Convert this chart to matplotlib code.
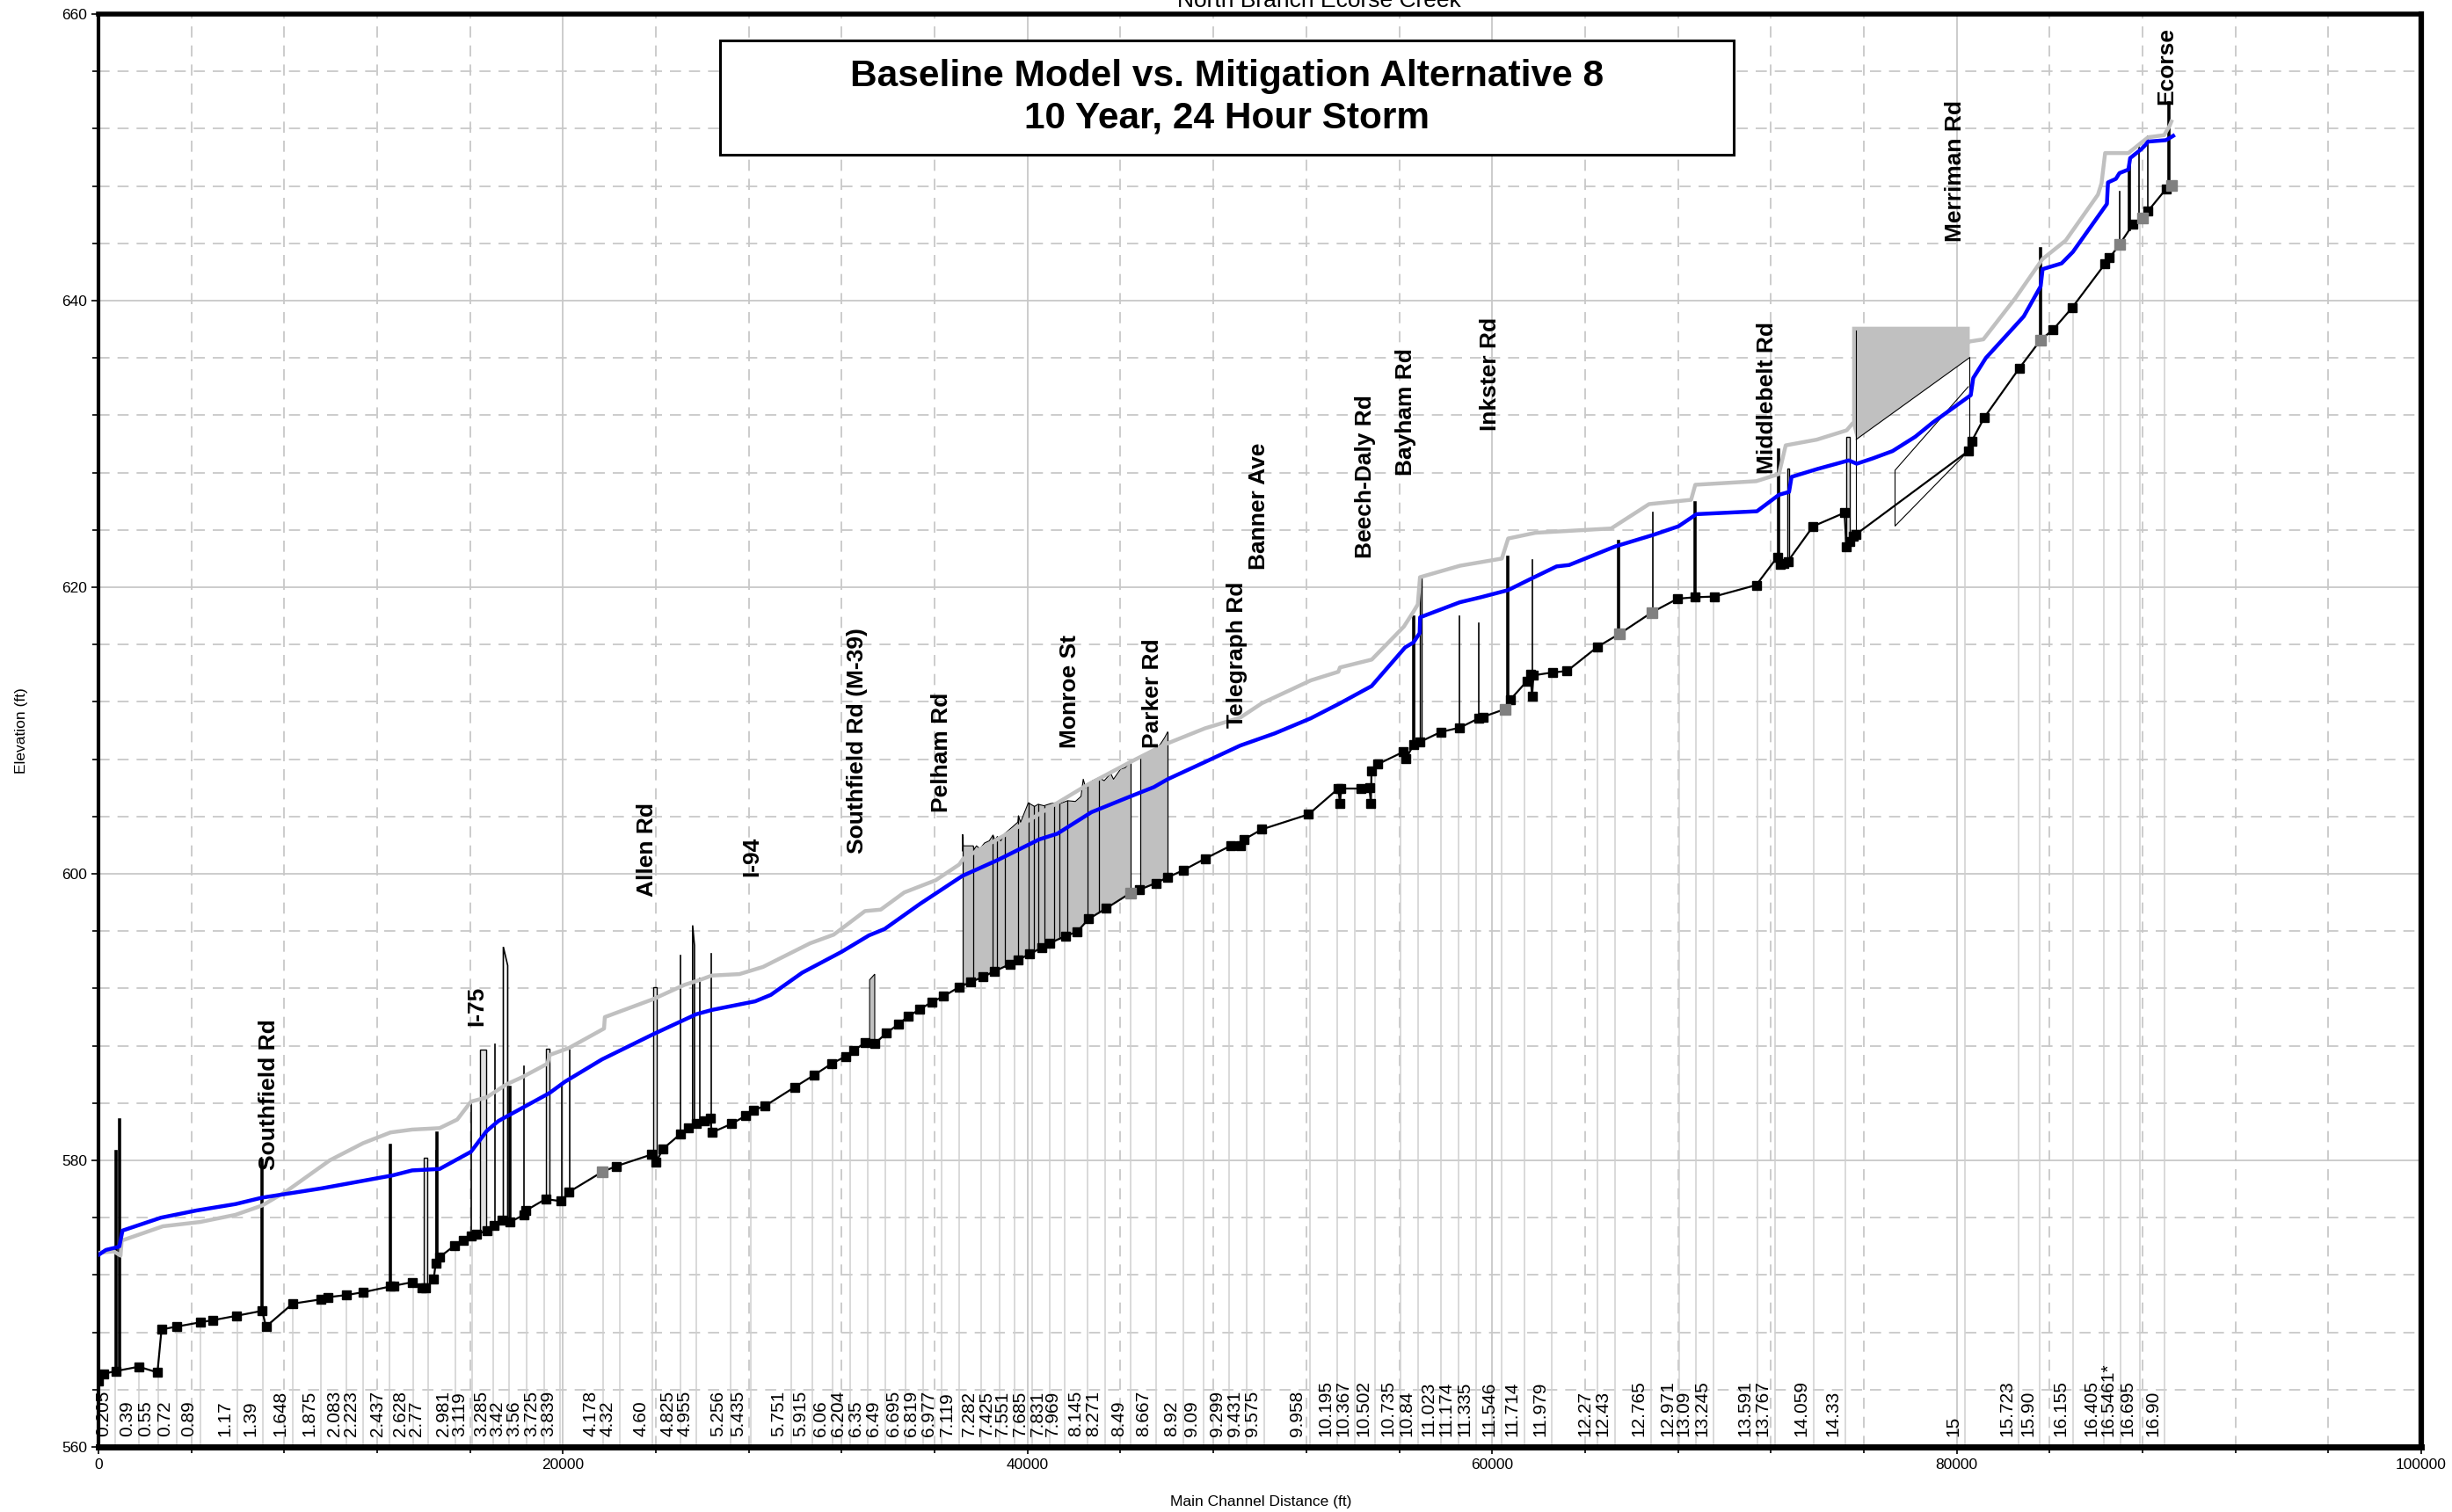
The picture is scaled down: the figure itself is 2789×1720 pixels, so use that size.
import numpy as np
import matplotlib
matplotlib.use("Agg")
import matplotlib.pyplot as plt
from matplotlib.patches import Rectangle, Polygon

plt.rcParams['font.family'] = ['Liberation Sans', 'DejaVu Sans']

# ---------------- data ----------------
ground_x = [0, 215, 758, 1736, 2540, 2714, 3366, 4387, 4936, 5930, 7050, 7212, 8360, 9580, 9860,
            10667, 11400, 12550, 12710, 13520, 13925, 14094, 14432, 14517, 14686, 15328, 15700,
            16037, 16291, 16713, 17017, 17389, 17727, 18318, 18403, 19248, 19924, 20262, 21690,
            22300, 23796, 24013, 24300, 25061, 25399, 25737, 26075, 26328, 26413, 27257, 27849,
            28187, 28694, 29961, 30806, 31566, 32158, 32495, 33002, 33425, 33932, 34439, 34861,
            35368, 35875, 36382, 37058, 37565, 38072, 38578, 39254, 39592, 40099, 40606, 40944,
            41620, 42129, 42633, 43394, 44425, 44830, 45523, 46030, 46706, 47635, 48734, 49156,
            49325, 50085, 52100, 53380, 53449, 53500, 54354, 54720, 54780, 54807, 55079, 56165,
            56291, 56617, 56889, 57794, 58609, 59424, 59604, 60564, 60781, 61500, 61650, 61720,
            61780, 62592, 63226, 64547, 65488, 66882, 67986, 68747, 69562, 71372, 72277, 72400,
            72549, 72730, 73816, 75174, 75250, 75400, 75536, 75673, 80497, 80649, 81192, 82690,
            83615, 84155, 84972, 86391, 86576, 87008, 87594, 88010, 88241, 89012, 89244]
ground_y = [564.6, 565.1, 565.3, 565.6, 565.2, 568.2, 568.4, 568.7, 568.85, 569.15, 569.5, 568.4, 570.0,
            570.3, 570.45, 570.6, 570.8, 571.2, 571.25, 571.5, 571.1, 571.1, 571.7, 572.8, 573.25,
            574.05, 574.4, 574.7, 574.85, 575.1, 575.45, 575.8, 575.7, 576.2, 576.5, 577.3, 577.15,
            577.8, 579.2, 579.6, 580.4, 579.9, 580.8, 581.85, 582.3, 582.55, 582.75, 582.95, 581.95,
            582.55, 583.1, 583.5, 583.8, 585.1, 585.95, 586.75, 587.25, 587.65, 588.2, 588.15, 588.9,
            589.5, 590.05, 590.55, 591.05, 591.45, 592.1, 592.45, 592.8, 593.2, 593.7, 594.0, 594.4,
            594.85, 595.15, 595.65, 595.95, 596.85, 597.6, 598.65, 598.9, 599.35, 599.75, 600.25,
            601.05, 601.95, 601.95, 602.4, 603.1, 604.15, 605.95, 604.9, 605.95, 605.95, 606.0, 604.9,
            607.2, 607.65, 608.5, 608.05, 609.0, 609.2, 609.9, 610.2, 610.85, 610.95, 611.5, 612.15,
            613.45, 613.9, 612.4, 613.85, 614.05, 614.15, 615.85, 616.75, 618.25, 619.2, 619.3,
            619.35, 620.15, 622.1, 621.6, 621.65, 621.8, 624.25, 625.2, 622.8, 623.2, 623.55, 623.7,
            629.5, 630.2, 631.85, 635.27, 637.26, 637.98, 639.51, 642.58, 642.99, 643.91, 645.34,
            645.75, 646.26, 647.79, 648.06]

gray_pts_x = [21690, 44425, 60564, 65488, 66882, 83615, 87008, 88010, 89244]
gray_pts_y = [579.2, 598.65, 611.5, 616.75, 618.25, 637.26, 643.91, 645.75, 648.06]

mitig_x = [0, 323, 830, 900, 1033, 2689, 4210, 5899, 7048, 8434, 9617, 10630, 12658, 13503, 14100,
           14686, 16037, 16713, 17220, 18065, 19417, 20093, 21681, 23878, 25737, 26413, 28271, 28947,
           30299, 31989, 33171, 33847, 35368, 37190, 38700, 40500, 41282, 42750, 44425, 45439, 46030,
           47635, 49156, 50643, 52190, 53450, 54810, 56255, 56617, 56880, 56900, 58609, 59514, 60691,
           61687, 62773, 63316, 65307, 66936, 68022, 68800, 71400, 72348, 72783, 72891, 74000, 75350,
           75700, 76368, 77237, 78215, 78976, 80605, 80714, 81257, 82887, 83615, 83700, 84517, 85003,
           86468, 86514, 86854, 87008, 87393, 87470, 87933, 88118, 88241, 89012, 89321]
mitig_y = [573.4, 573.75, 573.95, 574.0, 575.1, 576.0, 576.5, 576.95, 577.4, 577.75, 578.05, 578.35,
           578.95, 579.3, 579.35, 579.4, 580.6, 582.05, 582.75, 583.5, 584.7, 585.5, 587.05, 588.8,
           590.2, 590.5, 591.1, 591.55, 593.1, 594.55, 595.7, 596.15, 597.9, 599.85, 600.95, 602.4,
           602.8, 604.3, 605.4, 606.05, 606.6, 607.8, 608.95, 609.8, 610.85, 611.9, 613.1, 615.8,
           616.15, 616.8, 617.9, 618.95, 619.3, 619.8, 620.6, 621.45, 621.55, 622.85, 623.65, 624.25,
           625.1, 625.3, 626.45, 626.65, 627.7, 628.25, 628.85, 628.62, 628.98, 629.5, 630.5, 631.5,
           633.4, 634.6, 636.0, 638.9, 641.0, 642.2, 642.6, 643.4, 646.75, 648.25, 648.5, 648.9,
           649.15, 649.95, 650.55, 650.85, 651.1, 651.2, 651.5]

base_x = [0, 661, 950, 1000, 2773, 4378, 5899, 7048, 8096, 9955, 11391, 12574, 13503, 14686, 15446,
          16037, 16713, 17558, 18234, 19332, 19417, 20262, 21766, 21800, 23878, 25230, 25906, 26413,
          27595, 28609, 30637, 31651, 33002, 33678, 34692, 36044, 37058, 37227, 39018, 40877, 42566,
          44425, 45946, 47635, 49156, 50085, 52197, 53380, 53449, 54818, 56200, 56617, 56800, 56895,
          58619, 60419, 60691, 61868, 65126, 66756, 68566, 68747, 71372, 72348, 72639, 73978, 75264,
          75500, 80562, 81149, 82536, 83693, 84695, 86083, 86237, 86391, 87393, 88241, 88934, 89166,
          89244]
base_y = [573.55, 573.65, 573.35, 574.4, 575.4, 575.7, 576.2, 576.85, 577.85, 580.0, 581.2, 581.95,
          582.15, 582.25, 582.85, 584.1, 584.4, 585.3, 585.8, 586.75, 587.35, 587.85, 589.2, 590.0,
          591.25, 592.25, 592.6, 592.9, 593.0, 593.5, 595.15, 595.75, 597.4, 597.5, 598.7, 599.55,
          600.65, 601.05, 602.7, 604.55, 606.2, 607.8, 609.05, 610.15, 610.9, 611.9, 613.5, 614.1,
          614.4, 614.95, 617.25, 618.3, 618.8, 620.7, 621.5, 622.0, 623.4, 623.8, 624.1, 625.8,
          626.1, 627.15, 627.4, 627.9, 629.9, 630.3, 630.95, 631.4, 637.15, 637.3, 640.2, 642.9,
          644.2, 647.4, 648.2, 650.3, 650.3, 651.4, 651.55, 652.2, 652.5]

station_labels = ['0.205', '0.39', '0.55', '0.72', '0.89', '1.17', '1.39', '1.648', '1.875', '2.083',
                  '2.223', '2.437', '2.628', '2.77', '2.981', '3.119', '3.285', '3.42', '3.56', '3.725',
                  '3.839', '4.178', '4.32', '4.60', '4.825', '4.955', '5.256', '5.435', '5.751', '5.915',
                  '6.06', '6.204', '6.35', '6.49', '6.695', '6.819', '6.977', '7.119', '7.282', '7.425',
                  '7.551', '7.685', '7.831', '7.969', '8.145', '8.271', '8.49', '8.667', '8.92', '9.09',
                  '9.299', '9.431', '9.575', '9.958', '10.195', '10.367', '10.502', '10.735', '10.84',
                  '11.023', '11.174', '11.335', '11.546', '11.714', '11.979', '12.27', '12.43', '12.765',
                  '12.971', '13.09', '13.245', '13.591', '13.767', '14.059', '14.33', '15', '15.723',
                  '15.90', '16.155', '16.405', '16.5461*', '16.695', '16.90']
station_x = [715, 1736, 2562, 3366, 4387, 5974, 7060, 8364, 9580, 10667, 11406, 12536, 13535, 14187,
             15382, 16078, 17012, 17686, 18425, 19185, 19880, 21727, 22444, 23857, 25052, 25747, 27204,
             28075, 29812, 30739, 31608, 32368, 33129, 33889, 34759, 35519, 36280, 37040, 38018, 38779,
             39431, 40191, 40952, 41604, 42582, 43342, 44429, 45515, 46711, 47580, 48666, 49427, 50187,
             52143, 53338, 54099, 54968, 56054, 56815, 57793, 58553, 59314, 60400, 61378, 62573, 64536,
             65276, 66828, 68069, 68761, 69549, 71411, 72175, 73847, 75207, 80364, 82680, 83587, 84996,
             86333, 87049, 87885, 88959]

road_names = ['Southfield Rd', 'I-75', 'Allen Rd', 'I-94', 'Southfield Rd (M-39)', 'Pelham Rd',
              'Monroe St', 'Parker Rd', 'Telegraph Rd', 'Banner Ave', 'Beech-Daly Rd', 'Bayham Rd',
              'Inkster Rd', 'Middlebelt Rd', 'Merriman Rd', 'Ecorse']
road_x = [7340, 16296, 23636, 28148, 32660, 36296, 41818, 45387, 49024, 49966, 54545, 56296, 59933,
          71852, 79933, 89023]
road_y = [579.3, 589.4, 598.4, 599.8, 601.4, 604.3, 608.8, 608.8, 610.2, 621.2, 622.0, 627.8, 630.9,
          627.9, 644.1, 653.7]

# bridge / culvert elements (x in ft, top elevation in ft)
heavy_x = [0, 745, 900, 7050, 12550, 14590, 17697, 56617, 60691, 65452, 68747, 72320, 83615, 87440, 89135]
heavy_top = [582.4, 580.6, 582.8, 580.0, 581.05, 581.9, 585.1, 617.9, 622.1, 623.2, 625.9, 629.6, 643.6,
             649.5, 653.8]
light_x = [14517, 16049, 17069, 18324, 19940, 20285, 25071, 25903, 26374, 58609, 59424, 61723, 66936,
           87008, 87856, 88241]
light_top = [580.7, 584.0, 588.1, 586.55, 585.2, 587.7, 594.3, 592.7, 594.4, 618.0, 617.5, 621.9, 625.2,
             647.6, 650.75, 651.5]
box_x0 = [13990, 16441, 19266, 23894, 56889, 72693, 75264]
box_x1 = [14170, 16677, 19422, 24050, 56960, 72780, 75400]
box_top = [580.2, 587.7, 587.8, 592.1, 620.65, 628.3, 630.5]
spike_x0 = [17430, 25580]
spike_x1 = [17618, 25660]
spike_top0 = [594.9, 596.4]
spike_top1 = [593.6, 595.0]
deck_x = [33200, 33420]
deck_top = [592.6, 593.0]

culvA_x = [37193, 37205, 37230, 37660, 37700, 37800, 37950, 38150, 38350, 38511, 38600, 38700, 38850,
           39018, 39300, 39580, 39609, 39700, 40032, 40300, 40454, 40708, 41000, 41197, 41400, 41722,
           42060, 42300, 42397, 42500, 42566, 42800, 43073, 43300, 43580, 43700, 44000, 44200, 44425]
culvA_top = [601.6, 602.74, 601.95, 601.95, 601.7, 601.95, 601.75, 602.15, 602.3, 602.7, 602.35, 602.6,
             602.3, 602.8, 603.2, 603.6, 604.05, 603.6, 604.95, 604.7, 604.85, 604.75, 604.9, 604.95,
             604.9, 605.1, 605.05, 605.4, 606.6, 606.0, 606.2, 606.5, 606.7, 606.5, 607.0, 606.6, 607.3,
             607.4, 607.8]
culvB_x = [44848, 45000, 45200, 45439, 45700, 45900, 46030]
culvB_top = [608.1, 608.3, 608.4, 608.65, 609.0, 609.5, 609.9]
culv_walls = [37210, 37666, 38511, 38680, 39018, 39609, 40032, 40285, 40454, 40708, 41130, 41384, 41722,
              42566, 43073, 44425, 44848, 46030]

big_x = [75499, 80562, 80562, 75673, 75499]
big_y = [638.18, 638.18, 636.03, 630.31, 631.4]
frame_x = [80497, 77346, 77346, 80497]
frame_y = [633.99, 628.16, 624.27, 629.49]

# ---------------- figure ----------------
W, H = 2789, 1720
fig = plt.figure(figsize=(W / 100, H / 100), dpi=100)
ax = fig.add_axes([112 / W, 74 / H, (2754 - 112) / W, (1646 - 16) / H])

gx = np.array(ground_x, float)
gy = np.array(ground_y, float)
def gnd(x):
    return np.interp(x, gx, gy)

ax.set_xlim(0, 100000)
ax.set_ylim(560, 660)
ax.set_xticks(np.arange(0, 100001, 20000))
ax.set_xticks(np.arange(0, 100001, 4000), minor=True)
ax.set_yticks(np.arange(560, 661, 20))
ax.set_yticks(np.arange(560, 661, 4), minor=True)
gc = '#c8c8c8'
ax.grid(which='major', color=gc, lw=1.3, ls='-', zorder=0)
ax.grid(which='minor', color=gc, lw=1.3, ls=(0, (7, 5)), zorder=0)
ax.set_axisbelow(True)
ax.tick_params(which='both', direction='out', color='black', labelsize=12.5)
ax.tick_params(which='major', length=6, width=1.2)
ax.tick_params(which='minor', length=5, width=1.2)
for s, w in (('left', 3.0), ('bottom', 5.0), ('top', 4.0), ('right', 4.5)):
    ax.spines[s].set_linewidth(w)

# station lines + labels
for lab, sx in zip(station_labels, station_x):
    ax.plot([sx, sx], [560, gnd(sx)], color='#cfcfcf', lw=1.1, zorder=1)
    ax.annotate(lab, (sx, 560), xytext=(-3, 9), textcoords='offset points', rotation=90,
                ha='right', va='bottom', fontsize=15, color='black', zorder=2)

# culvert fills
for cx, ct in ((culvA_x, culvA_top), (culvB_x, culvB_top)):
    cx = np.array(cx, float)
    ax.fill_between(cx, gnd(cx), ct, color='#c0c0c0', lw=0, zorder=2)
    ax.plot(cx, ct, color='black', lw=0.8, zorder=2.2)
for wx in culv_walls:
    top = np.interp(wx, culvA_x + culvB_x, culvA_top + culvB_top)
    ax.plot([wx, wx], [gnd(wx), top], color='black', lw=0.9, zorder=2.2)

# structures
for x, t in zip(heavy_x, heavy_top):
    ax.plot([x, x], [gnd(x) - (1.5 if x == 0 else 0), t], color='black', lw=2.6, zorder=3)
for x, t in zip(light_x, light_top):
    ax.plot([x, x], [gnd(x), t], color='black', lw=1.2, zorder=3)
for x0, x1, t in zip(box_x0, box_x1, box_top):
    ax.add_patch(Polygon([(x0, gnd(x0)), (x0, t), (x1, t), (x1, gnd(x1))], closed=True,
                         facecolor='#e0e0e0', edgecolor='black', lw=1.0, zorder=3))
for x0, x1, t0, t1 in zip(spike_x0, spike_x1, spike_top0, spike_top1):
    ax.add_patch(Polygon([(x0, gnd(x0)), (x0, t0), (x1, t1), (x1, gnd(x1))], closed=True,
                         facecolor='white', edgecolor='black', lw=1.2, zorder=3))
ax.add_patch(Polygon([(deck_x[0], gnd(deck_x[0])), (deck_x[0], deck_top[0]), (deck_x[1], deck_top[1]),
                      (deck_x[1], gnd(deck_x[1]))], closed=True, facecolor='#c0c0c0',
                     edgecolor='black', lw=0.8, zorder=3))

# water surfaces
ax.plot(base_x, base_y, color='#c0c0c0', lw=3.2, zorder=4, solid_joinstyle='round')
ax.add_patch(Polygon(list(zip(big_x, big_y)), closed=True, facecolor='#c0c0c0', edgecolor='none',
                     zorder=4.2))
ax.plot([big_x[3], big_x[2]], [big_y[3], big_y[2]], color='black', lw=0.8, zorder=4.3)
ax.plot([big_x[3], big_x[3]], [gnd(big_x[3]), 637.9], color='black', lw=0.8, zorder=4.3)
ax.plot([big_x[1], big_x[1]], [gnd(big_x[1]), big_y[2]], color='black', lw=0.8, zorder=4.3)
ax.plot(frame_x, frame_y, color='black', lw=0.8, zorder=4.3)
ax.plot(mitig_x, mitig_y, color='#0000ff', lw=3.2, zorder=5, solid_joinstyle='round')

# ground
ax.plot(ground_x, ground_y, color='black', lw=1.6, marker='s', ms=7, mfc='black', mec='black',
        zorder=6)
ax.plot(gray_pts_x, gray_pts_y, ls='none', marker='s', ms=8.5, mfc='#808080', mec='#808080', zorder=6.5)

# road names
for name, x, y in zip(road_names, road_x, road_y):
    ax.text(x, y, name, rotation=90, ha='center', va='bottom', fontsize=19, fontweight='bold',
            zorder=7)

# labels
fig.text(1434 / W, 1 - 1708 / H, 'Main Channel Distance (ft)', ha='center', va='center', fontsize=12.5)
fig.text(25 / W, 1 - 831 / H, 'Elevation (ft)', ha='center', va='center', rotation=90, fontsize=12.5)
fig.text(1500 / W, 1 - 8 / H, 'North Branch Ecorse Creek', ha='center', va='baseline', fontsize=19)

# title box
bx0, bx1, by0, by1 = 819 / W, 1972 / W, 1 - 176 / H, 1 - 46 / H
fig.patches.append(Rectangle((bx0, by0), bx1 - bx0, by1 - by0, transform=fig.transFigure,
                             facecolor='white', edgecolor='black', lw=2.2, zorder=10))
fig.text((bx0 + bx1) / 2, 1 - 87 / H, 'Baseline Model vs. Mitigation Alternative 8', ha='center',
         va='center', fontsize=30.5, fontweight='bold', zorder=11)
fig.text((bx0 + bx1) / 2, 1 - 134 / H, '10 Year, 24 Hour Storm', ha='center', va='center',
         fontsize=30.5, fontweight='bold', zorder=11)

fig.savefig('out.png', dpi=100)
